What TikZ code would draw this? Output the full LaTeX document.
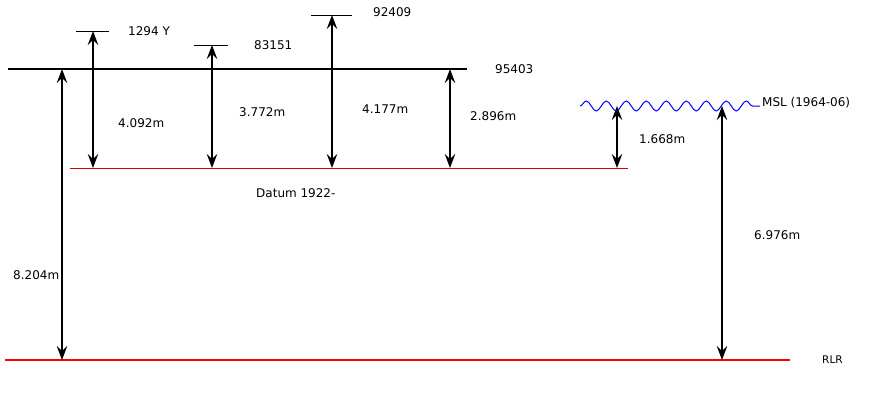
\documentclass[tikz,border=0pt]{standalone}
\usepackage{fontspec}
\setmainfont{DejaVu Sans}
\usetikzlibrary{arrows.meta,decorations.pathmorphing}
\tikzset{
  lbl/.style={anchor=west, inner sep=0pt, text height=8.7pt, text depth=0pt, font=\fontsize{12}{14}\selectfont},
  dimhead/.tip={Stealth[length=14pt,width=10.5pt,inset=5pt]},
  dimarrow/.style={line width=1.4pt, dimhead-dimhead},
  longarrow/.style={line width=1.1pt, dimhead-dimhead},
  tick/.style={line width=1pt, black},
  refline/.style={line width=2.6pt, black},
  datumline/.style={line width=1pt, red!85!black},
  rlrline/.style={line width=2.2pt, red},
  mslline/.style={line width=1pt, blue, decorate, decoration={snake, segment length=20pt, amplitude=5pt}}
}
\begin{document}
\begin{tikzpicture}[x=1pt,y=-1pt]
\useasboundingbox (0,0) rectangle (875,400);
% reference lines
\coordinate (bmL) at (8,69);  \coordinate (bmR) at (467,69);
\coordinate (dL) at (70,168); \coordinate (dR) at (628,168);
\coordinate (rL) at (5,360);  \coordinate (rR) at (790,360);
\coordinate (mL) at (580,106); \coordinate (mR) at (760,106);
\draw[refline] (bmL) -- (bmR);
\draw[datumline] (dL) -- (dR);
\draw[rlrline] (rL) -- (rR);
\draw[mslline] (mL) -- (mR);
% ticks
\coordinate (t1L) at (76,31);  \coordinate (t1R) at (109,31);
\coordinate (t2L) at (194,45); \coordinate (t2R) at (228,45);
\coordinate (t3L) at (311,15); \coordinate (t3R) at (352,15);
\draw[tick] (t1L) -- (t1R);
\draw[tick] (t2L) -- (t2R);
\draw[tick] (t3L) -- (t3R);
% arrow ends
\coordinate (a1t) at (93,31);   \coordinate (a1b) at (93,168);
\coordinate (a2t) at (212,45);  \coordinate (a2b) at (212,168);
\coordinate (a3t) at (332,15);  \coordinate (a3b) at (332,168);
\coordinate (a4t) at (450,69);  \coordinate (a4b) at (450,168);
\coordinate (a5t) at (62,69);   \coordinate (a5b) at (62,360);
\coordinate (a6t) at (617,106); \coordinate (a6b) at (617,168);
\coordinate (a7t) at (722,106); \coordinate (a7b) at (722,360);
\draw[dimarrow] (a1t) -- (a1b);
\draw[dimarrow] (a2t) -- (a2b);
\draw[dimarrow] (a3t) -- (a3b);
\draw[dimarrow] (a4t) -- (a4b);
\draw[dimarrow] (a6t) -- (a6b);
\draw[longarrow] (a5t) -- (a5b);
\draw[longarrow] (a7t) -- (a7b);
% labels
\node[lbl] (l1294) at (128,31) {1294 Y};
\node[lbl] (l83151) at (254,45) {83151};
\node[lbl] (l92409) at (373,12) {92409};
\node[lbl] (l95403) at (495,69) {95403};
\node[lbl] (d1) at (118,123) {4.092m};
\node[lbl] (d2) at (239,112) {3.772m};
\node[lbl] (d3) at (362,109) {4.177m};
\node[lbl] (d4) at (470,116) {2.896m};
\node[lbl] (d5) at (13,275) {8.204m};
\node[lbl] (d6) at (639,139) {1.668m};
\node[lbl] (d7) at (754,235) {6.976m};
\node[lbl] (ldatum) at (256,193) {Datum 1922-};
\node[lbl] (lmsl) at (762,102) {MSL (1964-06)};
\node[lbl, font=\fontsize{10.5}{12}\selectfont, text height=7.6pt] (lrlr) at (822,360) {RLR};
\end{tikzpicture}
\end{document}
